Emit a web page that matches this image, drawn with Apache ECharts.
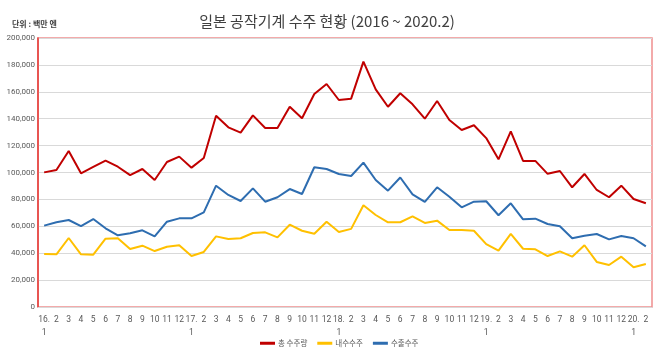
<!DOCTYPE html>
<html>
<head>
<meta charset="utf-8">
<script src="https://cdn.jsdelivr.net/npm/echarts@6/dist/echarts.min.js"></script>
<style>
html,body{margin:0;padding:0;background:#fff;}
#chart{width:660px;height:357px;}
</style>
</head>
<body>
<div id="chart"></div>
<script>
const categories = [
  "16.\n1","2","3","4","5","6","7","8","9","10","11","12",
  "17.\n1","2","3","4","5","6","7","8","9","10","11","12",
  "18.\n1","2","3","4","5","6","7","8","9","10","11","12",
  "19.\n1","2","3","4","5","6","7","8","9","10","11","12",
  "20.\n1","2"
];
const totalOrders = [
  100100,101900,116000,99400,104100,108800,104300,98100,102600,94400,107800,111800,
  103600,110800,142200,133600,129600,142500,133100,133100,148900,140300,158400,165800,
  153900,154900,182400,161800,148900,158900,150700,140000,153200,139000,131600,135100,
  125600,109800,130600,108600,108600,99000,101100,89000,98900,87000,81600,90200,
  80300,77100
];
const domesticOrders = [
  39400,39200,51300,39200,38900,50800,51100,43100,45600,41600,44800,45900,
  37900,40900,52500,50600,51100,55000,55500,51800,61200,56700,54500,63400,
  55800,58100,75600,68400,63000,63000,67400,62500,64200,57200,57200,56700,
  46800,41900,54300,43300,42900,37900,41400,37400,45900,33500,31200,37400,
  29500,32000
];
const exportOrders = [
  60500,63000,64700,60200,65400,58500,53300,54800,57000,52500,63400,65900,
  65900,70400,90200,83300,78800,88200,78300,81600,87700,84000,103900,102600,
  98900,97400,107300,94400,86500,96300,83800,78100,89000,82000,74100,78300,
  78600,68200,77100,65200,65700,61700,60000,51100,53000,54300,50300,52800,
  51100,45100
];
const yTicks = { min: 0, max: 200000, interval: 20000 };
const seriesNames = ["총 수주량", "내수수주", "수출수주"];
const seriesColors = ["#C00000", "#FFC000", "#2E6DB0"];

const font = "'Noto Sans CJK KR', 'Noto Sans', sans-serif";
const numFont = "Roboto, 'Liberation Sans', sans-serif";
const chart = echarts.init(document.getElementById('chart'), null, {renderer: 'canvas'});
const mk = (name, data, color) => ({
  name: name, type: 'line', data: data, symbol: 'none',
  lineStyle: {color: color, width: 2}, itemStyle: {color: color}
});
chart.setOption({
  animation: false,
  backgroundColor: '#ffffff',
  textStyle: {fontFamily: font},
  title: [
    {text: '일본 공작기계 수주 현황 (2016 ~ 2020.2)', left: 322, textAlign: 'center', top: 9,
     textStyle: {fontFamily: font, fontSize: 15, fontWeight: 'normal', color: '#404040'}},
    {text: '단위 : 백만 엔', left: 7, top: 15,
     textStyle: {fontFamily: font, fontSize: 8, fontWeight: 'bold', color: '#404040'}}
  ],
  grid: {left: 38, right: 8, top: 38, bottom: 50, show: true,
         borderColor: '#ef8f8f', borderWidth: 1.5, backgroundColor: 'transparent'},
  legend: {
    bottom: 5, left: 255, itemWidth: 15, itemHeight: 3, itemGap: 10, icon: 'rect',
    data: seriesNames,
    textStyle: {fontFamily: font, fontSize: 7.5, color: '#595959', padding: [0, 0, 0, -2]}
  },
  xAxis: {
    type: 'category', data: categories, boundaryGap: true,
    axisLine: {show: true, lineStyle: {color: '#d9d9d9', width: 1}},
    axisTick: {show: false},
    axisLabel: {interval: 0, fontSize: 8.5, color: '#595959', lineHeight: 13, margin: 6, fontFamily: numFont}
  },
  yAxis: {
    type: 'value', min: yTicks.min, max: yTicks.max, interval: yTicks.interval,
    axisLine: {show: true, lineStyle: {color: '#e53935', width: 1.5}},
    axisTick: {show: false},
    splitLine: {lineStyle: {color: '#d9d9d9', width: 1}},
    axisLabel: {fontSize: 8, color: '#595959', margin: 3, fontFamily: numFont,
      formatter: v => v.toLocaleString('en-US')}
  },
  series: [
    mk(seriesNames[0], totalOrders, seriesColors[0]),
    mk(seriesNames[1], domesticOrders, seriesColors[1]),
    mk(seriesNames[2], exportOrders, seriesColors[2])
  ]
});
</script>
</body>
</html>
